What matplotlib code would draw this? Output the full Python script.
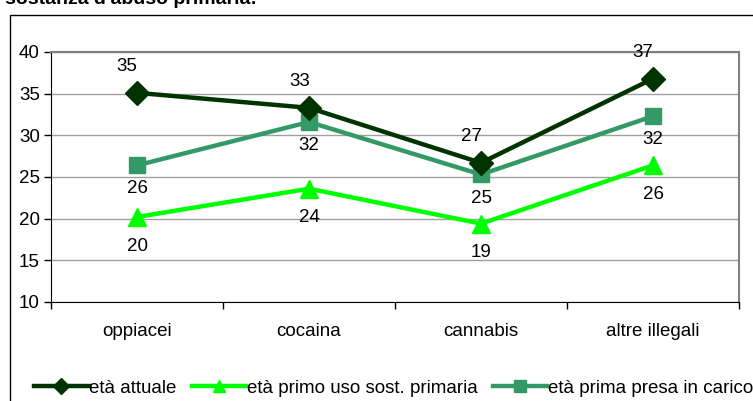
import matplotlib.pyplot as plt
from matplotlib.patches import Rectangle
from matplotlib.lines import Line2D

plt.rcParams['font.family'] = ['Liberation Sans', 'DejaVu Sans']

# Categories and ages per substance
categories = ['oppiacei', 'cocaina', 'cannabis', 'altre illegali']
eta_attuale = [35.1, 33.3, 26.7, 36.8]
eta_primo_uso = [20.2, 23.6, 19.4, 26.4]
eta_presa_carico = [26.4, 31.6, 25.3, 32.3]
series_names = ['età attuale', 'età primo uso sost. primaria', 'età prima presa in carico']
title = "sostanza d'abuso primaria:"

fig = plt.figure(figsize=(7.53, 4.01), dpi=100)

# outer frame around the chart
fig.patches.append(Rectangle((10 / 753, -0.1), 1.0, 1 - 15 / 401 + 0.1, transform=fig.transFigure,
                             fill=False, edgecolor='black', linewidth=1.0))
fig.text(5 / 753, 1 - 4 / 401, title, fontsize=14, fontweight='bold', va='baseline', ha='left')

ax = fig.add_axes([51 / 753, 1 - 302 / 401, (739 - 51) / 753, 250 / 401])
x = list(range(len(categories)))

ax.plot(x, eta_attuale, color='#003300', lw=3.2, marker='D', ms=12, zorder=4)
ax.plot(x, eta_primo_uso, color='#00ff00', lw=3.2, marker='^', ms=13, zorder=3)
ax.plot(x, eta_presa_carico, color='#339966', lw=3.2, marker='s', ms=11, zorder=3)

fs = 13.5
# value labels
for xi, v in zip(x, eta_attuale):
    ax.annotate(f'{v:.0f}', (xi, v), xytext=(-7, 19), textcoords='offset points',
                ha='center', va='center', fontsize=fs)
for xi, v in zip(x, eta_primo_uso):
    ax.annotate(f'{v:.0f}', (xi, v), xytext=(0, -21), textcoords='offset points',
                ha='center', va='center', fontsize=fs)
for xi, v in zip(x, eta_presa_carico):
    ax.annotate(f'{v:.0f}', (xi, v), xytext=(0, -17), textcoords='offset points',
                ha='center', va='center', fontsize=fs)

ax.set_xlim(-0.5, len(categories) - 0.5)
ax.set_ylim(10, 40)
ax.set_yticks(range(10, 41, 5))
ax.set_xticks([i + 0.5 for i in range(-1, len(categories))])
ax.set_xticklabels([])
ax.set_xticks(x, minor=True)
ax.set_xticklabels(categories, minor=True, fontsize=fs)
ax.tick_params(axis='x', which='minor', length=0, pad=15)
ax.tick_params(axis='x', which='major', length=5, direction='out', width=1)
ax.tick_params(axis='y', length=5, direction='out', width=1, labelsize=fs, pad=3)
ax.grid(axis='y', color='#a0a0a0', lw=1)
ax.set_axisbelow(True)
for side in ['top', 'right']:
    ax.spines[side].set_color('#808080')
    ax.spines[side].set_linewidth(1.5)
for side in ['left', 'bottom']:
    ax.spines[side].set_color('black')

handles = [
    Line2D([], [], color='#003300', lw=3.2, marker='D', ms=8),
    Line2D([], [], color='#00ff00', lw=3.2, marker='^', ms=9),
    Line2D([], [], color='#339966', lw=3.2, marker='s', ms=8),
]
fig.legend(handles, series_names, loc='center', bbox_to_anchor=(0.523, 1 - 388 / 401),
           ncol=3, frameon=False, fontsize=13.5,
           handlelength=2.9, handletextpad=0.05, columnspacing=0.8)

fig.savefig('out.png', dpi=100)
